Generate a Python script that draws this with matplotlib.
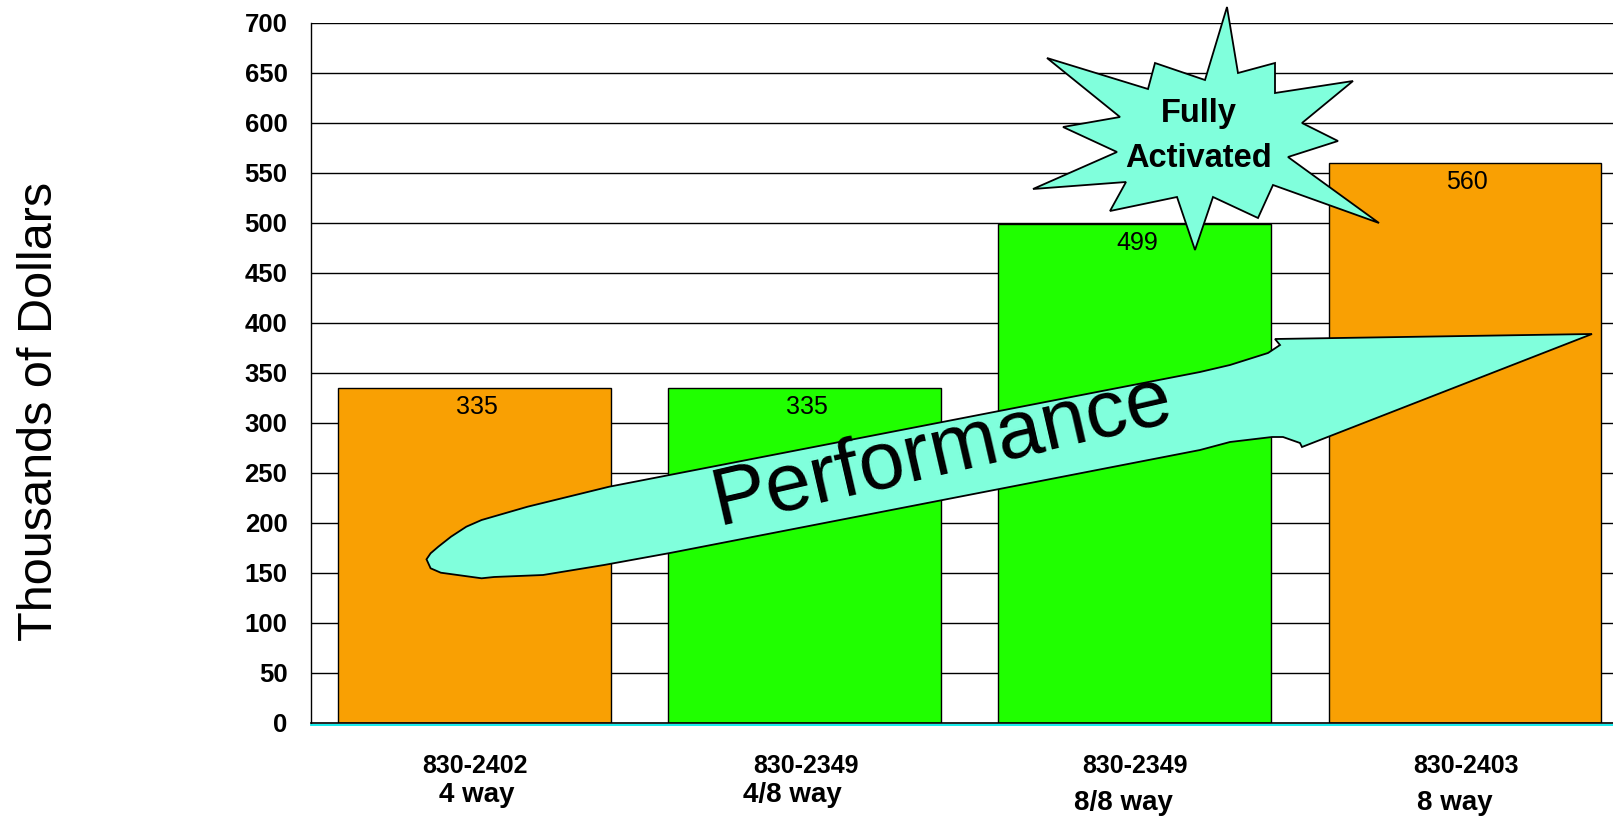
import matplotlib
matplotlib.use("Agg")
import matplotlib.pyplot as plt
from matplotlib.patches import Polygon
from matplotlib.transforms import Affine2D

plt.rcParams['font.family'] = ['Liberation Sans', 'DejaVu Sans']

# ---------------- data ----------------
part_numbers = ["830-2402", "830-2349", "830-2349", "830-2403"]
configs = ["4 way", "4/8 way", "8/8 way", "8 way"]
values = [335, 335, 499, 560]
bar_colors = ["#F9A003", "#20FF00", "#20FF00", "#F9A003"]
y_ticks = list(range(0, 701, 50))
y_label = "Thousands of Dollars"
callout_text = "Fully\nActivated"
arrow_text = "Performance"

# ---------------- layout ----------------
W, H = 1613, 817
fig = plt.figure(figsize=(W / 100, H / 100), dpi=100)
px = Affine2D().scale(1 / W, -1 / H).translate(0, 1) + fig.transFigure

ax = fig.add_axes([311 / W, 1 - 723 / H, (W - 311) / W, 700 / H])
ax.set_xlim(-0.495, 3.448)
ax.set_ylim(0, 700)
for s in ["top", "right", "bottom"]:
    ax.spines[s].set_visible(False)
ax.spines["left"].set_linewidth(1.0)
ax.set_yticks(y_ticks)
ax.set_yticklabels([str(t) for t in y_ticks], fontsize=18.5, fontweight="bold")
ax.tick_params(axis="y", length=0, pad=17)
ax.set_xticks([])
for t in y_ticks[1:]:
    ax.axhline(t, color="black", lw=1.0, zorder=1)

x = list(range(len(values)))
ax.bar(x, values, width=0.826, color=bar_colors, edgecolor="black",
       linewidth=1.0, zorder=2)

# bottom axis line: black with cyan beneath
ax.axhline(0, color="black", lw=1.2, zorder=3, clip_on=False)
ax.plot([-0.495, 3.448], [0, 0], color="#00E8E8", lw=1.3, zorder=3,
        clip_on=False, transform=ax.transData + Affine2D().translate(0, -2))

# value labels
for i, v in enumerate(values):
    ax.annotate(str(v), xy=(i, v), xytext=(1.5, -13.7), textcoords="offset points",
                ha="center", va="center", fontsize=18, zorder=4)

# category labels (two lines, different offsets)
top_dx = [1, 1.5, 0, 1]
bot_dx = [2, -12, -11.5, -10]
bot_base = [802, 802, 810, 810]
for i in x:
    ax.annotate(part_numbers[i], xy=(i, 0), xytext=(top_dx[i] * 0.72, -(773 - 723) * 0.72),
                textcoords="offset points", ha="center", va="baseline",
                fontsize=18, fontweight="bold", annotation_clip=False)
    ax.annotate(configs[i], xy=(i, 0), xytext=(bot_dx[i] * 0.72, -(bot_base[i] - 723) * 0.72),
                textcoords="offset points", ha="center", va="baseline",
                fontsize=20, fontweight="bold", annotation_clip=False)

# y label
fig.text(40 / W, 1 - 411 / H, y_label, rotation=90, ha="center", va="center",
         fontsize=35)

# ---------------- performance arrow ----------------
arrow_pts = [(426.5, 559.3), (430.6, 553.3), (438.3, 546.7), (451, 536.7),
             (466.3, 526.7), (481.6, 520), (527.6, 506.7), (609.2, 486.7),
             (1200, 372), (1230, 365), (1268, 353), (1280, 345), (1275, 339),
             (1592, 334), (1302, 447), (1300, 443), (1283, 437), (1272, 437),
             (1230, 442), (1200, 450), (670, 553), (604, 565), (543, 575),
             (494, 577), (481.6, 578.3), (440.8, 572.7), (430.6, 568.3)]
ax.add_patch(Polygon(arrow_pts, closed=True, transform=px, facecolor="#80FFDC",
                     edgecolor="black", lw=1.3, zorder=5, clip_on=False))
ax.text(942, 452, arrow_text, transform=px, rotation=13, rotation_mode="anchor",
        ha="center", va="center", fontsize=59, zorder=6)

# ---------------- "Fully Activated" star ----------------
star_pts = [(1227, 7), (1238, 73), (1275, 63), (1275, 93), (1353, 81),
            (1302, 123), (1338, 141), (1288, 157), (1379, 223), (1273, 185),
            (1258, 218), (1213, 197), (1195, 250), (1177, 197), (1110, 211),
            (1126, 182), (1033, 189), (1117, 152), (1063, 127), (1120, 117),
            (1047, 58), (1148, 89), (1155, 63), (1205, 80)]
ax.add_patch(Polygon(star_pts, closed=True, transform=px, facecolor="#80FFDC",
                     edgecolor="black", lw=1.3, zorder=7, clip_on=False))
ax.text(1199, 136, callout_text, transform=px, ha="center", va="center",
        fontsize=23.5, fontweight="bold", linespacing=1.55, zorder=8)

fig.savefig("out.png", dpi=100)
